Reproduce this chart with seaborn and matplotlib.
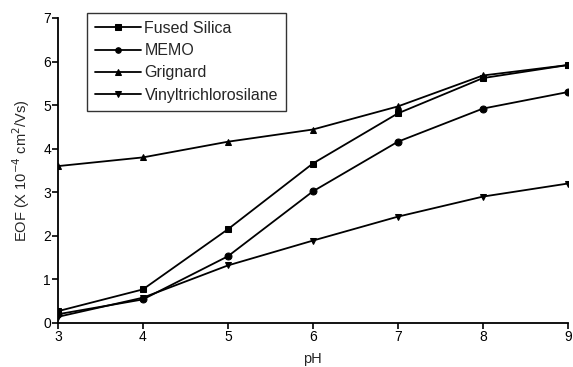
import matplotlib
matplotlib.use("Agg")
import matplotlib.pyplot as plt
import seaborn as sns
import pandas as pd

ph = [3, 4, 5, 6, 7, 8, 9]
fused_silica = [0.27, 0.77, 2.15, 3.66, 4.81, 5.62, 5.92]
memo = [0.20, 0.54, 1.53, 3.02, 4.16, 4.92, 5.30]
grignard = [3.60, 3.80, 4.16, 4.44, 4.97, 5.68, 5.92]
vinyl = [0.14, 0.58, 1.32, 1.89, 2.44, 2.90, 3.20]

series_names = ["Fused Silica", "MEMO", "Grignard", "Vinyltrichlorosilane"]
series_values = [fused_silica, memo, grignard, vinyl]
markers = ["s", "o", "^", "v"]

sns.set_theme(style="ticks")
plt.rcParams["font.family"] = ["Liberation Sans", "DejaVu Sans"]

fig = plt.figure(figsize=(5.73, 3.67), dpi=100)
ax = fig.add_axes([0.101, 0.12, 0.890, 0.831])

for name, vals, m in zip(series_names, series_values, markers):
    df = pd.DataFrame({"pH": ph, "EOF": vals})
    sns.lineplot(data=df, x="pH", y="EOF", ax=ax, color="black", marker=m,
                 markersize=5, markeredgecolor="black", linewidth=1.3, label=name)

ax.set_xlim(3, 9)
ax.set_ylim(0, 7)
ax.set_xticks(range(3, 10))
ax.set_yticks(range(0, 8))
ax.tick_params(axis="both", direction="out", length=4, width=1.2, labelsize=10, colors="black", pad=1)
for s in ["top", "right"]:
    ax.spines[s].set_visible(False)
for s in ["left", "bottom"]:
    ax.spines[s].set_linewidth(1.3)
    ax.spines[s].set_color("black")

ax.set_xlabel("pH", fontsize=10.5, labelpad=6)
ax.set_ylabel("EOF (X 10$^{-4}$ cm$^{2}$/Vs)", fontsize=10.5, labelpad=8)

leg = ax.legend(loc="upper left", bbox_to_anchor=(0.057, 1.016), borderaxespad=0,
                frameon=True, fancybox=False, edgecolor="black", fontsize=11.5,
                handlelength=2.9, handletextpad=0.2, borderpad=0.5,
                labelspacing=0.45, markerscale=0.8)
leg.get_frame().set_linewidth(1.0)

fig.savefig("out.png", dpi=100)
